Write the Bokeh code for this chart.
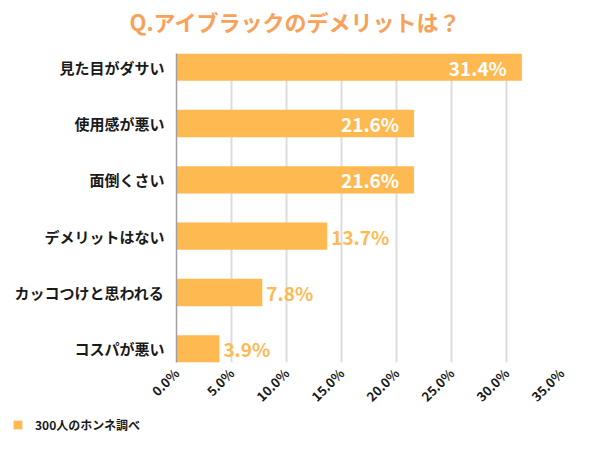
import math
from bokeh.plotting import figure
from bokeh.layouts import column
from bokeh.models import Range1d, FixedTicker, ColumnDataSource, Label, Legend, LegendItem
from bokeh.core.properties import value
from bokeh.embed import file_html
from bokeh.resources import INLINE

# ---- data ----
title_text = "Q.アイブラックのデメリットは？"
categories = ["見た目がダサい", "使用感が悪い", "面倒くさい", "デメリットはない", "カッコつけと思われる", "コスパが悪い"]
values = [31.4, 21.6, 21.6, 13.7, 7.8, 3.9]
x_ticks = [0, 5, 10, 15, 20, 25, 30, 35]
x_tick_labels = ["0.0%", "5.0%", "10.0%", "15.0%", "20.0%", "25.0%", "30.0%", "35.0%"]
legend_text = "300人のホンネ調べ"

BAR = "#FFB951"
TITLE_C = "#F8A159"
FONT = "Noto Sans CJK JP"
W = 584

# ---- title strip ----
t = figure(width=W, height=40, output_backend="svg", toolbar_location=None,
           x_axis_type=None, y_axis_type=None, x_range=Range1d(0, 1), y_range=Range1d(0, 1),
           min_border=0, min_border_left=0, min_border_right=0, min_border_top=0, min_border_bottom=0)
t.frame_align = False
t.outline_line_color = None
t.grid.grid_line_color = None
t.add_layout(Label(x=W / 2 + 3, y=20, x_units="screen", y_units="screen", text=title_text,
                   text_align="center", text_baseline="middle", text_color=TITLE_C,
                   text_font=FONT, text_font_style="bold", text_font_size="22px"))

# ---- main chart ----
ys = list(range(len(categories)))
bar_h = 0.485

p = figure(width=W, height=375, output_backend="svg", toolbar_location=None,
           x_range=Range1d(0, 35), y_range=Range1d(len(categories) - 1 + bar_h / 2, -bar_h / 2),
           min_border_left=176, min_border_right=23, min_border_top=13, min_border_bottom=53)
p.frame_align = False
p.outline_line_color = None
p.background_fill_color = "white"
p.border_fill_color = "white"

src = ColumnDataSource(dict(y=ys, v=values, cat=categories))
r = p.hbar(y="y", right="v", left=0, height=bar_h, source=src, fill_color=BAR, line_color=None)

p.ygrid.grid_line_color = None
p.xgrid.ticker = FixedTicker(ticks=x_ticks)
p.xgrid.grid_line_color = "#dcdcdc"
p.xgrid.grid_line_width = 2
p.xgrid.level = "underlay"

xa = p.xaxis[0]
xa.ticker = FixedTicker(ticks=x_ticks)
xa.major_label_overrides = {tk: lb for tk, lb in zip(x_ticks, x_tick_labels)}
xa.major_label_orientation = math.pi / 4
xa.axis_line_color = None
xa.major_tick_line_color = None
xa.major_tick_out = 0
xa.minor_tick_line_color = None
xa.major_label_text_font = FONT
xa.major_label_text_font_style = "bold"
xa.major_label_text_font_size = "13px"
xa.major_label_text_color = "#1a1a1a"
xa.major_label_standoff = 8

ya = p.yaxis[0]
ya.ticker = FixedTicker(ticks=ys)
ya.major_label_overrides = {y: c for y, c in zip(ys, categories)}
ya.axis_line_color = "#a0a0a0"
ya.axis_line_width = 1.5
ya.major_tick_line_color = None
ya.major_tick_out = 0
ya.minor_tick_line_color = None
ya.major_label_text_font = FONT
ya.major_label_text_font_style = "bold"
ya.major_label_text_font_size = "15px"
ya.major_label_text_color = "#1a1a1a"
ya.major_label_standoff = 12

inside = [(y, v) for y, v in zip(ys, values) if v > 15]
outside = [(y, v) for y, v in zip(ys, values) if v <= 15]
p.text(x=[v for _, v in inside], y=[y for y, _ in inside], text=[f"{v:.1f}%" for _, v in inside],
       text_align="right", text_baseline="middle", x_offset=-15, text_color="white",
       text_font=value(FONT), text_font_style="bold", text_font_size="19px")
p.text(x=[v for _, v in outside], y=[y for y, _ in outside], text=[f"{v:.1f}%" for _, v in outside],
       text_align="left", text_baseline="middle", x_offset=4, text_color=BAR,
       text_font=value(FONT), text_font_style="bold", text_font_size="19px")

# ---- legend strip ----
q = figure(width=W, height=19, output_backend="svg", toolbar_location=None,
           x_axis_type=None, y_axis_type=None, x_range=Range1d(0, 1), y_range=Range1d(0, 1),
           min_border=0, min_border_left=0, min_border_right=0, min_border_top=0, min_border_bottom=0)
q.frame_align = False
q.outline_line_color = None
q.grid.grid_line_color = None
lr = q.hbar(y=[-5], right=[0.001], left=0, height=0.1, fill_color=BAR, line_color=None)
legend = Legend(items=[LegendItem(label=legend_text, renderers=[lr])], location=(12, 1),
                padding=0, margin=0, spacing=0, border_line_color=None, background_fill_alpha=0,
                glyph_width=11, glyph_height=11, label_standoff=12, label_height=11,
                label_text_font=FONT, label_text_font_style="bold", label_text_font_size="12px",
                label_text_color="#1a1a1a")
q.add_layout(legend)

open("out.html", "w").write(file_html(column(t, p, q, spacing=0), INLINE))
